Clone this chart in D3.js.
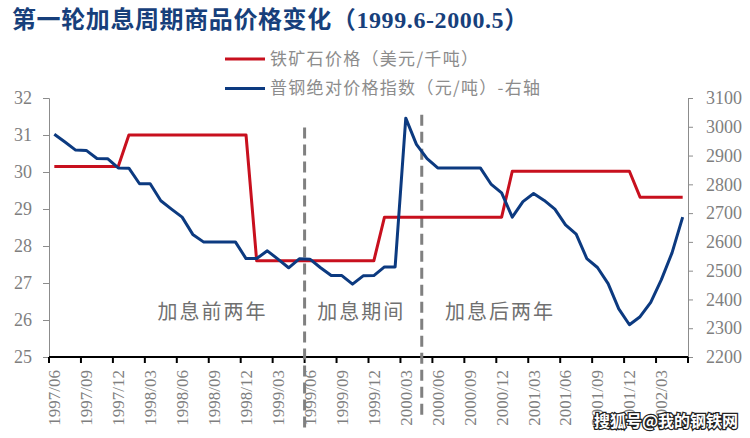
<!DOCTYPE html>
<html>
<head>
<meta charset="utf-8">
<script src="https://cdn.jsdelivr.net/npm/d3@7"></script>
<style>
  body { margin: 0; background: #fff; }
  svg text { font-family: "Liberation Serif", "Noto Sans CJK SC", serif; }
</style>
</head>
<body>
<div id="chart"></div>
<script>
// months 1997/06 - 2002/05
const months = [
  "1997/06","1997/07","1997/08","1997/09","1997/10","1997/11","1997/12",
  "1998/01","1998/02","1998/03","1998/04","1998/05","1998/06","1998/07","1998/08","1998/09","1998/10","1998/11","1998/12",
  "1999/01","1999/02","1999/03","1999/04","1999/05","1999/06","1999/07","1999/08","1999/09","1999/10","1999/11","1999/12",
  "2000/01","2000/02","2000/03","2000/04","2000/05","2000/06","2000/07","2000/08","2000/09","2000/10","2000/11","2000/12",
  "2001/01","2001/02","2001/03","2001/04","2001/05","2001/06","2001/07","2001/08","2001/09","2001/10","2001/11","2001/12",
  "2002/01","2002/02","2002/03","2002/04","2002/05"
];

const tickLabels = [
  "1997/06","1997/09","1997/12","1998/03","1998/06","1998/09","1998/12","1999/03","1999/06","1999/09",
  "1999/12","2000/03","2000/06","2000/09","2000/12","2001/03","2001/06","2001/09","2001/12","2002/03"
];

// 铁矿石价格（美元/千吨）- left axis
const orePrice = [
  30.15,30.15,30.15,30.15,30.15,30.15,30.15,
  31.0,31.0,31.0,31.0,31.0,31.0,31.0,31.0,31.0,31.0,31.0,31.0,
  27.6,27.6,27.6,27.6,27.6,27.6,27.6,27.6,27.6,27.6,27.6,27.6,
  28.78,28.78,28.78,28.78,28.78,28.78,28.78,28.78,28.78,28.78,28.78,28.78,
  30.02,30.02,30.02,30.02,30.02,30.02,30.02,30.02,30.02,30.02,30.02,30.02,
  29.32,29.32,29.32,29.32,29.32
];

// 普钢绝对价格指数（元/吨）- right axis
const steelIndex = [
  2974,2947,2919,2918,2890,2889,2857,2856,2802,2802,
  2743,2714,2686,2626,2600,2600,2600,2600,2542,2542,
  2569,2540,2510,2541,2540,2510,2483,2483,2453,2482,
  2483,2513,2513,3030,2939,2889,2857,2857,2857,2857,
  2857,2801,2770,2686,2740,2768,2744,2714,2659,2627,
  2542,2511,2455,2367,2312,2340,2390,2469,2562,2686
];

const leftTicks = [25, 26, 27, 28, 29, 30, 31, 32];
const rightTicks = [2200, 2300, 2400, 2500, 2600, 2700, 2800, 2900, 3000, 3100];

const periodMarks = ["1999/06", "2000/05"];
const periodLabels = [
  { text: "加息前两年", at: "1998/04" },
  { text: "加息期间", at: "1999/07" },
  { text: "加息后两年", at: "2000/07" }
];

const W = 750, H = 438;
const margin = { top: 98, right: 62, bottom: 81, left: 49 };
const width = W - margin.left - margin.right,
      height = H - margin.top - margin.bottom;

const serif = "'Liberation Serif', 'Times New Roman', serif";
const cjk = "'Noto Sans CJK SC', sans-serif";

const svg = d3.select("#chart").append("svg")
  .attr("width", W)
  .attr("height", H);

// title
svg.append("text")
  .attr("x", 12)
  .attr("y", 28)
  .attr("fill", "#173f7b")
  .style("font-size", "24px")
  .style("font-weight", "bold")
  .style("letter-spacing", "0.6px")
  .text("第一轮加息周期商品价格变化（1999.6-2000.5）");

const g = svg.append("g")
  .attr("transform", `translate(${margin.left},${margin.top})`);

// scales
const x = d3.scaleBand().domain(months).range([0, width]);
const yL = d3.scaleLinear().domain([25, 32]).range([height, 0]);
const yR = d3.scaleLinear().domain([2200, 3100]).range([height, 0]);

const axisGrey = "#8c8c8c";
const labelGrey = "#7f7f7f";

// left axis
const gl = g.append("g")
  .call(d3.axisLeft(yL).tickValues(leftTicks).tickFormat(d3.format("d"))
    .tickSize(6).tickPadding(11))
  .attr("font-family", null);
gl.selectAll("path, line").attr("stroke", axisGrey);
gl.selectAll("text").attr("fill", labelGrey)
  .style("font-size", "18px")
  .style("font-family", serif);

// right axis
const gr = g.append("g")
  .attr("transform", `translate(${width},0)`)
  .call(d3.axisRight(yR).tickValues(rightTicks).tickFormat(d3.format("d"))
    .tickSize(5).tickPadding(13))
  .attr("font-family", null);
gr.selectAll("path, line").attr("stroke", axisGrey);
gr.selectAll("text").attr("fill", labelGrey)
  .style("font-size", "18px")
  .style("font-family", serif);

// bottom axis: ticks every 3 months on band edges
const tickMonths = months.filter((d, i) => i % 3 === 0);
const gb = g.append("g").attr("transform", `translate(0,${height})`);
gb.append("line")
  .attr("x1", 0).attr("x2", width)
  .attr("stroke", "#000").attr("stroke-width", 2);
gb.selectAll(".tk")
  .data(tickMonths.concat([null]))
  .join("line")
  .attr("class", "tk")
  .attr("x1", d => d === null ? width : x(d))
  .attr("x2", d => d === null ? width : x(d))
  .attr("y1", 0).attr("y2", 6)
  .attr("stroke", "#000").attr("stroke-width", 2);
gb.selectAll(".lbl")
  .data(tickLabels)
  .join("text")
  .attr("class", "lbl")
  .attr("transform", d => `translate(${x(d) + x.bandwidth() / 2},13) rotate(-90)`)
  .attr("text-anchor", "end")
  .attr("dy", "0.35em")
  .attr("fill", labelGrey)
  .style("font-size", "17px")
  .style("font-family", serif)
  .text(d => d);

// period dashed lines
g.selectAll(".period")
  .data(periodMarks)
  .join("line")
  .attr("class", "period")
  .attr("x1", d => x(d)).attr("x2", d => x(d))
  .attr("y1", (d, i) => i === 0 ? yL(31.2) : yL(31.55))
  .attr("y2", (d, i) => i === 0 ? height + 75 : height + 63)
  .attr("stroke", "#808080")
  .attr("stroke-width", 3)
  .attr("stroke-dasharray", "11,6");

// period labels
g.selectAll(".plabel")
  .data(periodLabels)
  .join("text")
  .attr("class", "plabel")
  .attr("x", d => x(d.at) + 2)
  .attr("y", yL(26.22))
  .attr("dy", "0.35em")
  .attr("fill", "#707070")
  .style("font-size", "20px")
  .style("letter-spacing", "2px")
  .style("font-family", cjk)
  .text(d => d.text);

// lines
const cx = d => x(d) + x.bandwidth() / 2;

g.append("path")
  .datum(months.map((m, i) => [m, orePrice[i]]))
  .attr("fill", "none")
  .attr("stroke", "#c8101e")
  .attr("stroke-width", 3)
  .attr("stroke-linejoin", "round")
  .attr("d", d3.line().x(d => cx(d[0])).y(d => yL(d[1])));

g.append("path")
  .datum(months.map((m, i) => [m, steelIndex[i]]))
  .attr("fill", "none")
  .attr("stroke", "#0c3a80")
  .attr("stroke-width", 3)
  .attr("stroke-linejoin", "round")
  .attr("d", d3.line().x(d => cx(d[0])).y(d => yR(d[1])));

// legend
const legendItems = [
  { name: "铁矿石价格（美元/千吨）", color: "#c8101e" },
  { name: "普钢绝对价格指数（元/吨）-右轴", color: "#0c3a80" }
];
const legend = svg.append("g").attr("transform", "translate(225,59)");
const li = legend.selectAll("g")
  .data(legendItems)
  .join("g")
  .attr("transform", (d, i) => `translate(0,${i * 29.5})`);
li.append("line")
  .attr("x1", 0).attr("x2", 40)
  .attr("stroke", d => d.color)
  .attr("stroke-width", 3);
li.append("text")
  .attr("x", 45)
  .attr("dy", "0.35em")
  .attr("fill", "#8c8c8c")
  .style("font-size", "17px")
  .style("letter-spacing", "1.3px")
  .style("font-family", cjk)
  .text(d => d.name);

// watermark
svg.append("text")
  .attr("x", 594)
  .attr("y", 427)
  .attr("fill", "#fff")
  .attr("stroke", "#222")
  .attr("stroke-width", 2.5)
  .attr("paint-order", "stroke")
  .style("font-size", "16px")
  .style("font-weight", "bold")
  .style("font-family", cjk)
  .text("搜狐号@我的钢铁网");
</script>
</body>
</html>
